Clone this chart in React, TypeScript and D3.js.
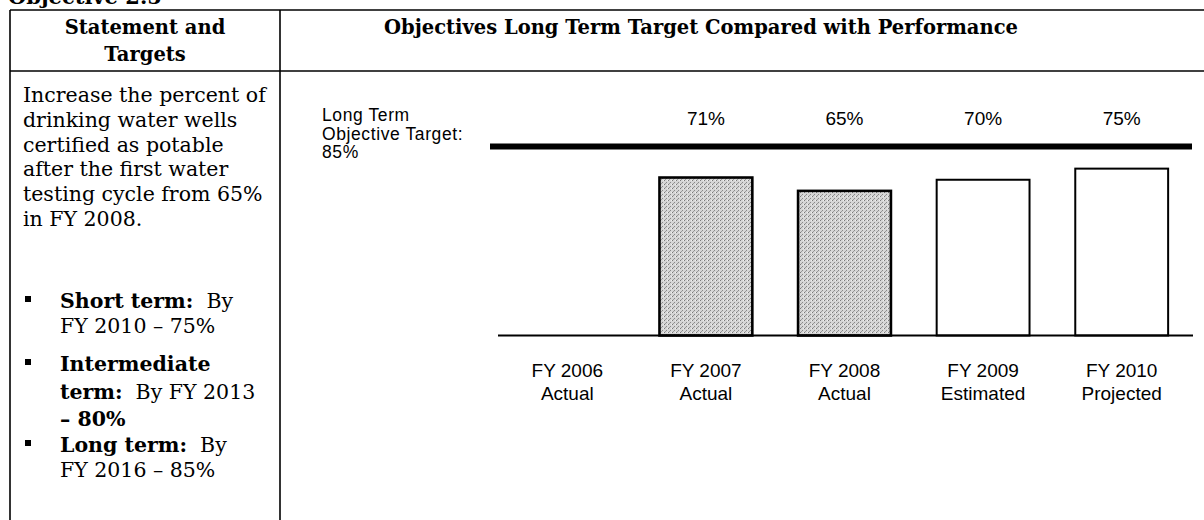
import React from "react";
import * as d3 from "d3";

// chart data
const years = ["FY 2006", "FY 2007", "FY 2008", "FY 2009", "FY 2010"];
const statuses = ["Actual", "Actual", "Actual", "Estimated", "Projected"];
const values: (number | null)[] = [null, 71, 65, 70, 75];
const isActual = [true, true, true, false, false];
const targetValue = 85;
const targetLabel = ["Long Term", "Objective Target:", "85%"];

// table text
const headLeft = ["Statement and", "Targets"];
const headRight = "Objectives Long Term Target Compared with Performance";
const introLines = [
  "Increase the percent of",
  "drinking water wells",
  "certified as potable",
  "after the first water",
  "testing cycle from 65%",
  "in FY 2008.",
];
type Seg = { t: string; b?: boolean };
const bullets: Seg[][][] = [
  [[{ t: "Short term:", b: true }, { t: "\u00a0\u00a0By" }], [{ t: "FY 2010 – 75%" }]],
  [
    [{ t: "Intermediate", b: true }],
    [{ t: "term:", b: true }, { t: "\u00a0\u00a0By FY 2013" }],
    [{ t: "– 80%", b: true }],
  ],
  [[{ t: "Long term:", b: true }, { t: "\u00a0\u00a0By" }], [{ t: "FY 2016 – 85%" }]],
];

const W = 1204;
const H = 520;
const serif = "'DejaVu Serif', serif";
const sans = "'Liberation Sans', Arial, sans-serif";

export default function App() {
  const x = d3.scaleBand<string>().domain(years).range([498, 1191]).paddingInner(0.33).paddingOuter(0.165);
  const y = d3.scaleLinear().domain([0, 100]).range([335.5, 113]);

  const bulletStarts = [308, 371, 452];
  const lh = 24.8;

  return (
    <svg
      width={W}
      height={H}
      style={{ position: "absolute", left: 0, top: 0, display: "block", background: "#fff" }}
    >
      <defs>
        <pattern id="stipple" width="4" height="4" patternUnits="userSpaceOnUse">
          <rect width="4" height="4" fill="#d6d6d6" />
          <rect x="0" y="0" width="1" height="1" fill="#7a7a7a" />
          <rect x="2" y="2" width="1" height="1" fill="#8a8a8a" />
          <rect x="3" y="0" width="1" height="1" fill="#f0f0f0" />
          <rect x="1" y="3" width="1" height="1" fill="#9a9a9a" />
        </pattern>
      </defs>

      {/* caption, cut off at the top */}
      <text x={8} y={4} fontFamily={serif} fontWeight="bold" fontSize={21}>Objective 2.5</text>

      {/* table grid */}
      <g stroke="#000" strokeWidth={1.6}>
        <line x1={10} x2={W} y1={10} y2={10} />
        <line x1={10} x2={W} y1={71} y2={71} />
        <line x1={10} x2={10} y1={10} y2={H} />
        <line x1={280} x2={280} y1={10} y2={H} />
      </g>

      {/* headers */}
      <g fontFamily={serif} fontWeight="bold" fontSize={19.5} textAnchor="middle">
        {headLeft.map((t, i) => (
          <text key={t} x={145} y={34 + i * 27}>{t}</text>
        ))}
        <text x={701} y={34}>{headRight}</text>
      </g>

      {/* left column text */}
      <g fontFamily={serif} fontSize={20.5}>
        {introLines.map((t, i) => (
          <text key={t} x={23} y={102 + i * lh}>{t}</text>
        ))}
        {bullets.map((lines, bi) => (
          <g key={bi}>
            <rect x={25} y={bulletStarts[bi] - 12} width={6} height={6} fill="#000" />
            {lines.map((segs, li) => (
              <text key={li} x={60} y={bulletStarts[bi] + li * (bi === 1 ? 27.5 : 25)}>
                {segs.map((s, si) => (
                  <tspan key={si} fontWeight={s.b ? "bold" : "normal"}>{s.t}</tspan>
                ))}
              </text>
            ))}
          </g>
        ))}
      </g>

      {/* chart */}
      <g fontFamily={sans} fill="#000">
        <g fontSize={17.5} letterSpacing={0.6}>
          {targetLabel.map((t, i) => (
            <text key={t} x={322} y={121 + i * 18.5}>{t}</text>
          ))}
        </g>
        <line x1={490} x2={1192} y1={y(targetValue)} y2={y(targetValue)} stroke="#000" strokeWidth={6} />

        {years.map((yr, i) =>
          values[i] == null ? null : (
            <g key={yr}>
              <rect
                x={x(yr)!}
                y={y(values[i]!)}
                width={x.bandwidth()}
                height={y(0) - y(values[i]!)}
                fill={isActual[i] ? "url(#stipple)" : "#fff"}
                stroke="#000"
                strokeWidth={isActual[i] ? 2.6 : 2}
              />
              <text x={x(yr)! + x.bandwidth() / 2} y={125} textAnchor="middle" fontSize={19}>
                {values[i]}%
              </text>
            </g>
          )
        )}

        <line x1={498} x2={1193} y1={y(0)} y2={y(0)} stroke="#000" strokeWidth={2.2} />

        <g fontSize={19} textAnchor="middle">
          {years.map((yr, i) => (
            <g key={"l" + yr}>
              <text x={x(yr)! + x.bandwidth() / 2} y={377}>{yr}</text>
              <text x={x(yr)! + x.bandwidth() / 2} y={400}>{statuses[i]}</text>
            </g>
          ))}
        </g>
      </g>
    </svg>
  );
}
